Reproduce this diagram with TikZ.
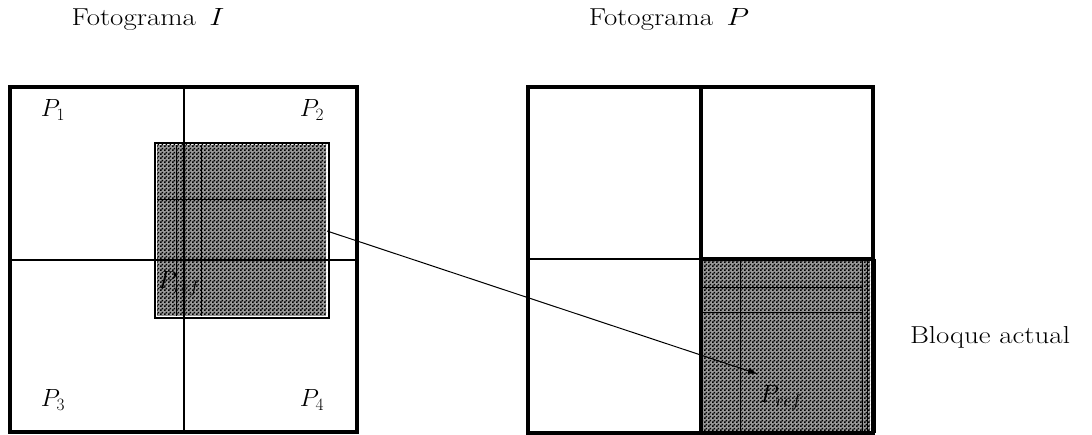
\documentclass[tikz,border=0pt]{standalone}
\usepackage{graphicx}
\usetikzlibrary{arrows.meta,patterns}
\pgfdeclarepatternformonly{finechecker}{\pgfpointorigin}{\pgfpoint{4pt}{4pt}}{\pgfpoint{4pt}{4pt}}{%
  \pgfpathrectangle{\pgfpointorigin}{\pgfpoint{2pt}{2pt}}%
  \pgfpathrectangle{\pgfpoint{2pt}{2pt}}{\pgfpoint{2pt}{2pt}}%
  \pgfusepath{fill}}
\tikzset{
  framebox/.style={line width=3.2pt},
  midline/.style={line width=2.4pt},
  thinline/.style={line width=0.8pt},
  shade/.style={fill=black!40, postaction={pattern=finechecker}},
  lbl/.style={font=\fontsize{25}{29}\selectfont, inner sep=0pt},
  title/.style={font=\fontsize{24.5}{29}\selectfont, inner sep=0pt},
}
\newcommand{\wide}[1]{\scalebox{1.18}[1]{#1}}
\begin{document}
\begin{tikzpicture}[x=1pt,y=-1pt]
\useasboundingbox (0,0) rectangle (1092,435);
% titles
\node[title] (tI) at (148,20) {\wide{Fotograma \,$I$}};
\node[title] (tP) at (669,20) {\wide{Fotograma \,$P$}};
\node[title] (ba) at (990,337) {\wide{Bloque actual}};

% ---------- Frame I ----------
\path[shade] (157,145) rectangle (326,316);
\node[lbl] (pref1) at (179,284) {$P_{ref}$};
\draw[thinline] (176,145) -- (176,316);
\draw[thinline] (201,145) -- (201,316);
\draw[thinline] (157,199) -- (326,199);
\draw[midline] (184,87) -- (184,432);
\draw[midline] (10,260) -- (357,260);
\draw[framebox] (10,87) rectangle (357,432);
\draw[line width=2.6pt] (155,143) rectangle (329,318);
\node[lbl] (p1) at (53,110) {$P_1$};
\node[lbl] (p2) at (312,110) {$P_2$};
\node[lbl] (p3) at (53,400) {$P_3$};
\node[lbl] (p4) at (312,400) {$P_4$};

% ---------- Frame P ----------
\path[shade] (702,260) rectangle (870,432);
\node[lbl] (pref2) at (781,398) {$P_{ref}$};
\draw[thinline] (740,260) -- (740,432);
\draw[thinline] (862,260) -- (862,432);
\draw[thinline] (867,260) -- (867,432);
\draw[thinline] (701,287) -- (862,287);
\draw[thinline] (701,312) -- (862,312);
\draw[midline] (528,259) -- (701,259);
\draw[framebox] (701,259) -- (875,259);
\draw[framebox] (701,87) -- (701,433);
\draw[framebox] (528,87) rectangle (873,433);
\draw[framebox] (874,259) -- (874,433);

% ---------- arrow ----------
\coordinate (a1) at (327,231);
\coordinate (a2) at (758,374);
\draw[line width=1pt,-{Latex[length=10pt,width=6pt]}] (a1) -- (a2);
\end{tikzpicture}
\end{document}
